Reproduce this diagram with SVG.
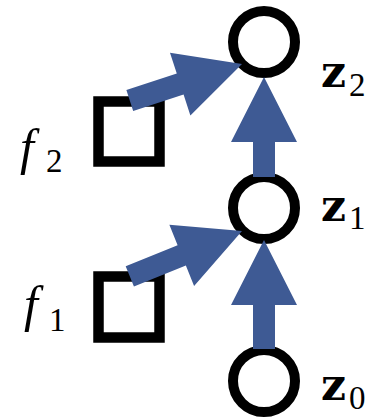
<svg xmlns="http://www.w3.org/2000/svg" width="376" height="417" viewBox="0 0 376 417">
<style>
.var{fill:none;stroke:#000;stroke-width:10}
.fac{fill:none;stroke:#000;stroke-width:10.5}
.arr{fill:#3E5A94}
.zl{font-family:"DejaVu Serif","Liberation Serif",serif;font-weight:bold;font-size:44px;fill:#000}
.fl{font-family:"Liberation Serif","DejaVu Serif",serif;font-style:italic;font-size:50px;fill:#000}
.sub{font-family:"Liberation Serif","DejaVu Serif",serif;font-weight:normal;font-style:normal;font-size:33px;fill:#000}
</style>
<rect width="376" height="417" fill="#fff"/>
<g id="z2"><circle class="var" cx="264" cy="42" r="31"/><text class="zl" x="321" y="87">z</text><text class="sub" x="349" y="96">2</text></g>
<g id="z1"><circle class="var" cx="264" cy="208" r="31"/><text class="zl" x="321" y="221">z</text><text class="sub" x="349" y="229">1</text></g>
<g id="z0"><circle class="var" cx="264" cy="381" r="31"/><text class="zl" x="321" y="400">z</text><text class="sub" x="349" y="409">0</text></g>
<g id="f2"><rect class="fac" x="98.5" y="101.5" width="61" height="60"/><text class="fl" x="20" y="164">f</text><text class="sub" x="46" y="172">2</text></g>
<g id="f1"><rect class="fac" x="98.5" y="276.5" width="61" height="61"/><text class="fl" x="24" y="321">f</text><text class="sub" x="49" y="331">1</text></g>
<g id="connectors">
<polygon class="arr" transform="translate(264,77) rotate(-90)" points="0,0 -65,-33 -65,-11 -100,-11 -100,11 -65,11 -65,33"/>
<polygon class="arr" transform="translate(264,240) rotate(-90)" points="0,0 -65,-33 -65,-11 -109,-11 -109,11 -65,11 -65,33"/>
<polygon class="arr" transform="translate(242,64) rotate(-18)" points="0,0 -65,-33 -65,-11 -118,-11 -118,11 -65,11 -65,33"/>
<polygon class="arr" transform="translate(242,231) rotate(-22)" points="0,0 -65,-33 -65,-11 -121,-11 -121,11 -65,11 -65,33"/>
</g>
</svg>
